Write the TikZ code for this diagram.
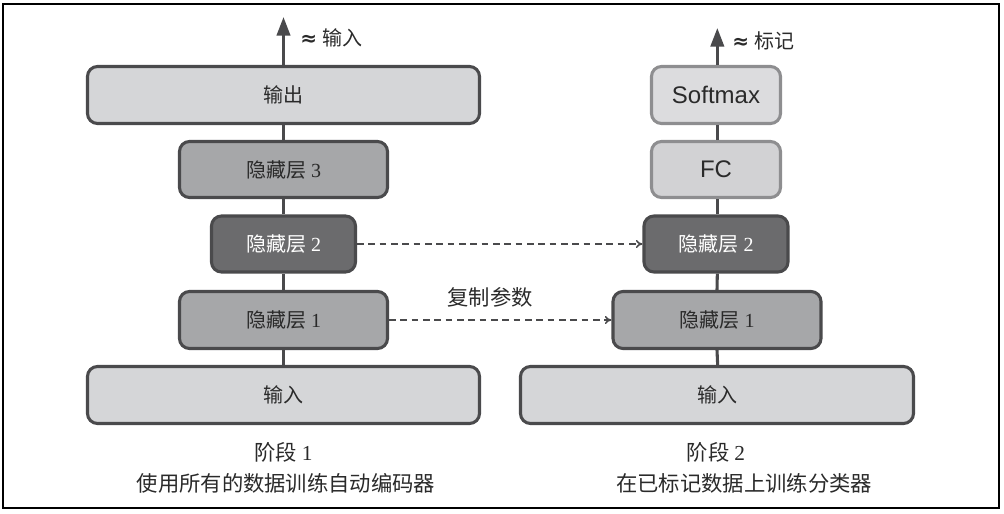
\documentclass[tikz,border=0pt]{standalone}
\usepackage{fontspec}
\setmainfont{Liberation Serif}
\newfontfamily\cjk{Noto Sans CJK SC}
\newfontfamily\arialf{Liberation Sans}
\newfontfamily\djv{DejaVu Sans}
\usetikzlibrary{arrows.meta}
\definecolor{lineC}{HTML}{4A4A4C}
\definecolor{lightF}{HTML}{D5D6D8}
\definecolor{midF}{HTML}{A6A7A9}
\definecolor{darkF}{HTML}{6B6B6D}
\definecolor{softF}{HTML}{DCDCDE}
\definecolor{fcF}{HTML}{D2D2D4}
\definecolor{softB}{HTML}{8E8E90}
\definecolor{txtC}{HTML}{2A2A2A}
\begin{document}
\begin{tikzpicture}[x=0.75pt,y=-0.75pt,
  box/.style={draw=lineC, line width=2.3pt, rounded corners=7.5pt, inner sep=0pt,
    text=txtC, font=\fontsize{15}{18}\selectfont},
  lbox/.style={box, fill=lightF},
  mbox/.style={box, fill=midF},
  dbox/.style={box, fill=darkF, text=white},
  sbox/.style={box, draw=softB, font=\arialf\fontsize{18}{22}\selectfont},
  link/.style={draw=lineC, line width=2.3pt},
  copyarrow/.style={draw=lineC, line width=1.1pt, dash pattern=on 5pt off 3.5pt, -{To[length=5pt,width=6pt]}},
  outarrow/.style={draw=lineC, line width=2.3pt, -{Triangle[length=14pt,width=10pt]}},
  lab/.style={text=txtC, font=\fontsize{15}{18}\selectfont, inner sep=0pt},
  captxt/.style={text=txtC, font=\cjk\fontsize{16}{19}\selectfont, inner sep=0pt}]
\useasboundingbox (0,0) rectangle (1004,514);
\draw[line width=0.9pt, black] (3,4) rectangle (999,508);

% left column
\node[lbox, minimum width=294pt, minimum height=42.75pt] (lout) at (283.5,95) {\cjk 输出};
\node[mbox, minimum width=156pt, minimum height=42pt] (lh3) at (283.5,169.5) {{\cjk 隐藏层} 3};
\node[dbox, minimum width=108pt, minimum height=42pt] (lh2) at (283.5,244) {{\cjk 隐藏层} 2};
\node[mbox, minimum width=156pt, minimum height=42.75pt] (lh1) at (283.5,320) {{\cjk 隐藏层} 1};
\node[lbox, minimum width=294pt, minimum height=42.75pt] (lin) at (283.5,395) {\cjk 输入};
\coordinate (ltop) at (283.5,17);

% right column
\node[sbox, fill=softF, minimum width=96.75pt, minimum height=42.75pt] (rsm) at (716,95) {Softmax};
\node[sbox, fill=fcF, minimum width=96.75pt, minimum height=42pt] (rfc) at (716,169.5) {FC};
\node[dbox, minimum width=108pt, minimum height=42pt] (rh2) at (716,244) {{\cjk 隐藏层} 2};
\node[mbox, minimum width=156pt, minimum height=42.75pt] (rh1) at (717,320) {{\cjk 隐藏层} 1};
\node[lbox, minimum width=294.75pt, minimum height=42.75pt] (rin) at (717,395) {\cjk 输入};
\coordinate (rtop) at (716,28);

% vertical links
\draw[link] (lin.north) -- (lh1.south);
\draw[link] (lh1.north) -- (lh2.south);
\draw[link] (lh2.north) -- (lh3.south);
\draw[link] (lh3.north) -- (lout.south);
\draw[outarrow] (lout.north) -- (ltop);
\draw[link] ([xshift=0.5]rin.north) -- (rh1.south);
\draw[link] (rh1.north) -- ([xshift=1]rh2.south);
\draw[link] ([xshift=1]rh2.north) -- ([xshift=1]rfc.south);
\draw[link] ([xshift=1]rfc.north) -- ([xshift=1]rsm.south);
\draw[outarrow] ([xshift=1]rsm.north) -- ([xshift=1]rtop);

% top labels
\node[lab, anchor=west] (lapprox) at (300,38) {{\djv\bfseries ≈} {\cjk 输入}};
\node[lab, anchor=west] (rapprox) at (732,41) {{\djv\bfseries ≈} {\cjk 标记}};

% copy arrows
\draw[copyarrow] (lh2.east) -- (rh2.west);
\draw[copyarrow] (lh1.east) -- (rh1.west);
\node[captxt] (copylab) at (490,297) {复制参数};

% captions
\node[captxt] (s1) at (283.5,452) {{\cjk 阶段} {\rmfamily 1}};
\node[captxt] (d1) at (286,483) {使用所有的数据训练自动编码器};
\node[captxt] (s2) at (716,452) {{\cjk 阶段} {\rmfamily 2}};
\node[captxt] (d2) at (744,483) {在已标记数据上训练分类器};
\end{tikzpicture}
\end{document}
